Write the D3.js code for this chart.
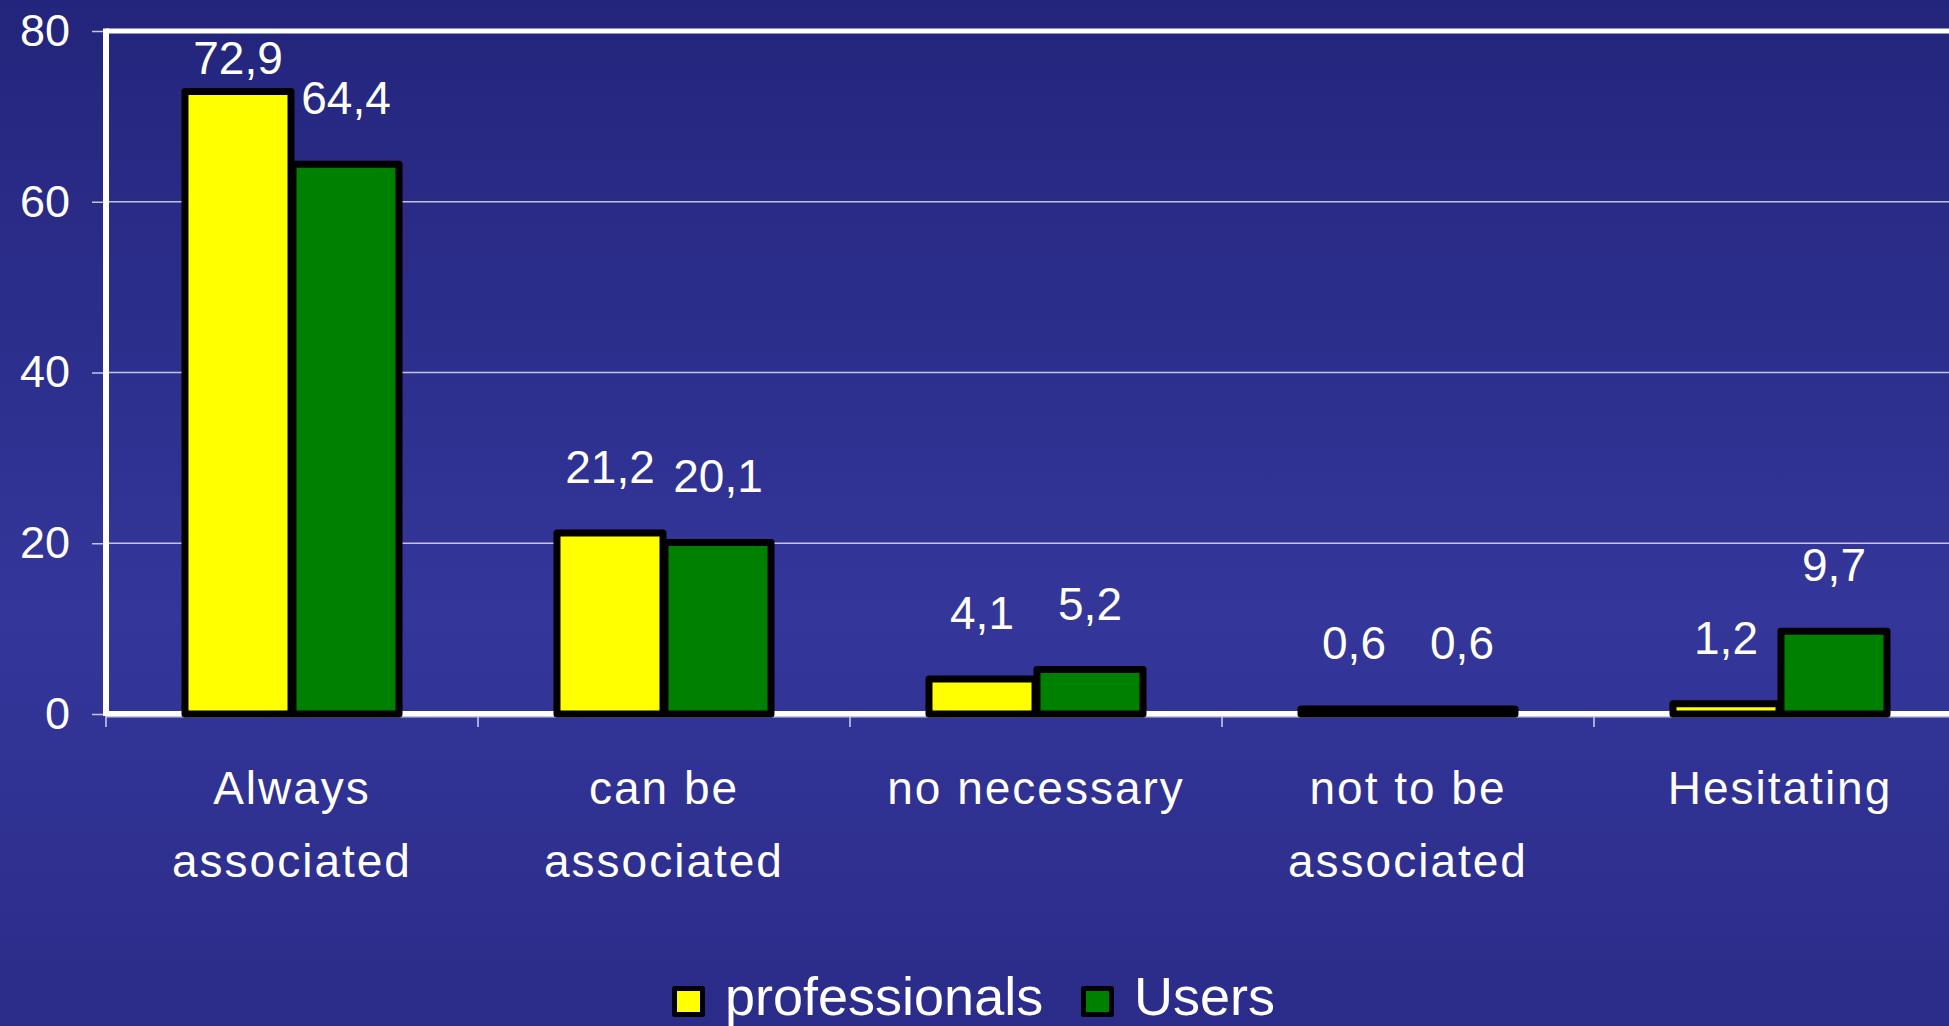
<!DOCTYPE html>
<html>
<head>
<meta charset="utf-8">
<script src="https://cdn.jsdelivr.net/npm/d3@7"></script>
<style>
html,body{margin:0;padding:0;overflow:hidden;background:#2e3090;}
svg{display:block;}
text{font-family:"Liberation Sans",Arial,sans-serif;fill:#ffffff;}
</style>
</head>
<body>
<svg id="chart" width="1949" height="1026"></svg>
<script>
// ---- data ----
const categories = [["Always", "associated"], ["can be", "associated"], ["no necessary"], ["not to be", "associated"], ["Hesitating"]];
const seriesNames = ["professionals", "Users"];
const professionals = [72.9, 21.2, 4.1, 0.6, 1.2];
const users = [64.4, 20.1, 5.2, 0.6, 9.7];
const yTicks = [0, 20, 40, 60, 80];
const seriesColors = ["#ffff00", "#008000"];

const W = 1949, H = 1026;
const svg = d3.select("#chart");

// background gradient
const defs = svg.append("defs");
const grad = defs.append("linearGradient").attr("id", "bg").attr("x1", 0).attr("y1", 0).attr("x2", 0).attr("y2", 1);
grad.append("stop").attr("offset", "0%").attr("stop-color", "#23257c");
grad.append("stop").attr("offset", "60%").attr("stop-color", "#34369a");
grad.append("stop").attr("offset", "100%").attr("stop-color", "#2b2c89");
svg.append("rect").attr("width", W).attr("height", H).attr("fill", "url(#bg)");

const plot = {left: 106, top: 31, bottom: 714, right: 106 + 372 * 5};

const catKeys = categories.map(c => c.join(" "));
const x0 = d3.scaleBand().domain(catKeys).range([plot.left, plot.right]).padding(0);
const x1 = d3.scaleBand().domain(seriesNames).range([0, x0.bandwidth()]).paddingInner(0).paddingOuter(0.722);
const y = d3.scaleLinear().domain([0, 80]).range([plot.bottom, plot.top]);

// gridlines
svg.append("g").selectAll("line").data(yTicks.filter(t => t > 0 && t < 80)).join("line")
  .attr("x1", plot.left).attr("x2", W + 20)
  .attr("y1", d => y(d)).attr("y2", d => y(d))
  .attr("stroke", "#c4c4e6").attr("stroke-width", 1.5);

// y axis
const yAxis = d3.axisLeft(y).tickValues(yTicks).tickSize(14).tickPadding(22).tickFormat(d3.format("d"));
const gy = svg.append("g").attr("transform", `translate(${plot.left},0)`).call(yAxis);
gy.select(".domain").remove();
gy.selectAll(".tick line").attr("stroke", "#c4c4e6").attr("stroke-width", 1.5);
gy.selectAll(".tick text").attr("fill", "#fff").style("font-size", "45px")
  .style("font-family", '"Liberation Sans", Arial, sans-serif');

// x axis ticks at band boundaries
const xBounds = catKeys.map(k => x0(k)).concat([plot.right]);
svg.append("g").selectAll("line").data(xBounds).join("line")
  .attr("x1", d => d).attr("x2", d => d)
  .attr("y1", plot.bottom).attr("y2", plot.bottom + 13)
  .attr("stroke", "#d0d0ee").attr("stroke-width", 1.5);

// frame
svg.append("line").attr("x1", plot.left).attr("x2", W + 20).attr("y1", y(80)).attr("y2", y(80))
  .attr("stroke", "#fff").attr("stroke-width", 5);
svg.append("line").attr("x1", plot.left).attr("x2", plot.left).attr("y1", y(80) - 2.5).attr("y2", y(0) + 2)
  .attr("stroke", "#fff").attr("stroke-width", 6);
svg.append("line").attr("x1", plot.left).attr("x2", W + 20).attr("y1", y(0) + 2.5).attr("y2", y(0) + 2.5)
  .attr("stroke", "#c8c8e8").attr("stroke-width", 2);
svg.append("line").attr("x1", plot.left).attr("x2", W + 20).attr("y1", y(0) - 0.5).attr("y2", y(0) - 0.5)
  .attr("stroke", "#fff").attr("stroke-width", 5);

// bars
const rows = catKeys.map((k, i) => ({key: k, values: [professionals[i], users[i]]}));
const groups = svg.append("g").selectAll("g").data(rows).join("g")
  .attr("transform", d => `translate(${x0(d.key)},0)`);
groups.selectAll("rect").data(d => d.values.map((v, j) => ({name: seriesNames[j], v, j}))).join("rect")
  .attr("x", d => x1(d.name) + 1)
  .attr("width", x1.bandwidth() - 2)
  .attr("y", d => y(d.v))
  .attr("height", d => y(0) - y(d.v))
  .attr("fill", d => seriesColors[d.j])
  .attr("stroke", "#000").attr("stroke-width", 7).attr("stroke-linejoin", "round");

// value labels
groups.selectAll("text").data(d => d.values.map((v, j) => ({name: seriesNames[j], v, j}))).join("text")
  .attr("x", d => x1(d.name) + x1.bandwidth() / 2)
  .attr("y", d => Math.max(y(d.v) - 50, y(80) + 43))
  .attr("text-anchor", "middle")
  .style("font-size", "46px")
  .text(d => String(d.v).replace(".", ","));

// category labels
const catG = svg.append("g").selectAll("text").data(categories).join("text")
  .attr("text-anchor", "middle")
  .style("font-size", "46px").style("letter-spacing", "2px")
  .attr("x", (d, i) => x0(catKeys[i]) + x0.bandwidth() / 2)
  .attr("y", 804);
catG.selectAll("tspan").data(d => d).join("tspan")
  .attr("x", function () { return d3.select(this.parentNode).attr("x"); })
  .attr("dy", (d, i) => i === 0 ? 0 : 73)
  .text(d => d);

// legend
const legendPos = [{bx: 672, tx: 725}, {bx: 1081, tx: 1134}];
const lg = svg.append("g").selectAll("g").data(seriesNames).join("g");
lg.append("rect")
  .attr("x", (d, i) => legendPos[i].bx + 2.5).attr("y", 988.5)
  .attr("width", 28).attr("height", 26)
  .attr("fill", (d, i) => seriesColors[i])
  .attr("stroke", "#000").attr("stroke-width", 5).attr("stroke-linejoin", "round");
lg.append("text")
  .attr("x", (d, i) => legendPos[i].tx).attr("y", 1015)
  .style("font-size", "54px")
  .text(d => d);
</script>
</body>
</html>
